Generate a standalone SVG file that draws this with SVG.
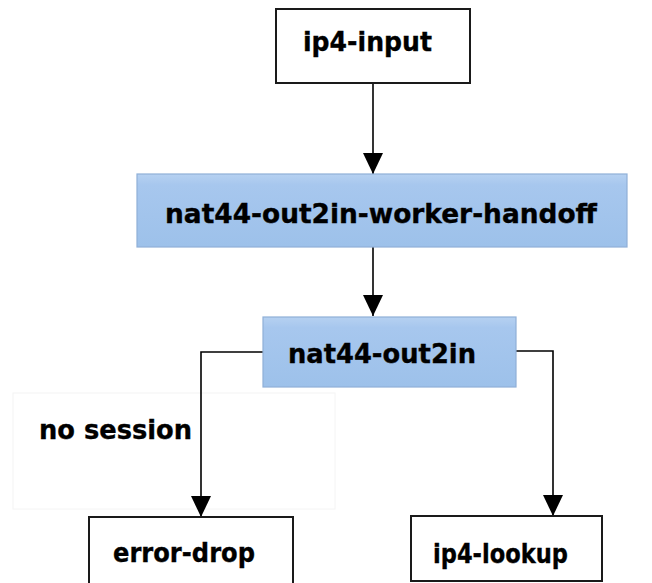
<svg xmlns="http://www.w3.org/2000/svg" width="652" height="583" viewBox="0 0 652 583">
  <defs>
    <linearGradient id="blueFill" x1="0" y1="0" x2="0" y2="1">
      <stop offset="0" stop-color="#b6d1f1"/>
      <stop offset="0.15" stop-color="#a7c7ee"/>
      <stop offset="1" stop-color="#9dc1ea"/>
    </linearGradient>
    <marker id="arrow" markerUnits="userSpaceOnUse" markerWidth="22" markerHeight="20" viewBox="0 0 22 20" refX="21" refY="10" orient="auto">
      <path d="M0,0 L21,10 L0,20 Z" fill="#000"/>
    </marker>
  </defs>
  <style>
    .plain { fill: #ffffff; stroke: #1a1a1a; stroke-width: 2; }
    .blue { fill: url(#blueFill); stroke: #8fb0d8; stroke-width: 1.2; }
    .label { font-family: "DejaVu Sans", Verdana, sans-serif; font-weight: bold; font-size: 26px; fill: #000; stroke: #000; stroke-width: 0.35; }
    .edge { fill: none; stroke: #000; stroke-width: 1.6; }
    .note { fill: #ffffff; stroke: #f4f4f4; stroke-width: 1; }
  </style>
  <rect width="652" height="583" fill="#ffffff"/>

  <!-- label area for the "no session" branch -->
  <g id="no-session-label">
    <rect class="note" x="13" y="393" width="322" height="116"/>
    <text class="label" x="39" y="439" textLength="153" lengthAdjust="spacingAndGlyphs">no session</text>
  </g>

  <g id="connectors">
    <path class="edge" d="M373,83 V174" marker-end="url(#arrow)"/>
    <path class="edge" d="M373,247 V316" marker-end="url(#arrow)"/>
    <path class="edge" d="M263,352 H201 V517" marker-end="url(#arrow)"/>
    <path class="edge" d="M516,351 H553 V516" marker-end="url(#arrow)"/>
  </g>

  <g id="ip4-input">
    <rect class="plain" x="276" y="9" width="194" height="74"/>
    <text class="label" x="303" y="51" textLength="129" lengthAdjust="spacingAndGlyphs">ip4-input</text>
  </g>

  <g id="nat44-out2in-worker-handoff">
    <rect class="blue" x="137" y="174" width="490" height="73"/>
    <text class="label" x="165" y="223" textLength="432" lengthAdjust="spacingAndGlyphs">nat44-out2in-worker-handoff</text>
  </g>

  <g id="nat44-out2in">
    <rect class="blue" x="263" y="317" width="253" height="70"/>
    <text class="label" x="288" y="363" textLength="188" lengthAdjust="spacingAndGlyphs">nat44-out2in</text>
  </g>

  <g id="error-drop">
    <rect class="plain" x="89" y="517" width="204" height="70"/>
    <text class="label" x="113" y="562" textLength="142" lengthAdjust="spacingAndGlyphs">error-drop</text>
  </g>

  <g id="ip4-lookup">
    <rect class="plain" x="411" y="516" width="191" height="65"/>
    <text class="label" x="433" y="563" textLength="135" lengthAdjust="spacingAndGlyphs">ip4-lookup</text>
  </g>
</svg>
